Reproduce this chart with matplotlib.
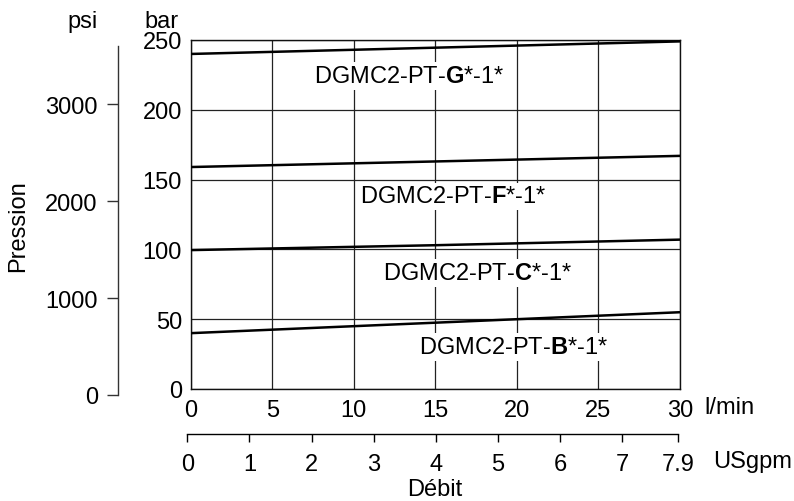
import matplotlib
matplotlib.use("Agg")
import matplotlib.pyplot as plt

plt.rcParams["font.family"] = ["Liberation Sans", "DejaVu Sans"]
plt.rcParams["mathtext.fontset"] = "custom"
plt.rcParams["mathtext.rm"] = "Liberation Sans"
plt.rcParams["mathtext.bf"] = "Liberation Sans:bold"
plt.rcParams["font.size"] = 17

# Flow (l/min) and pressure (bar) for each valve setting
flow_lpm = [0, 15, 30]
series = {
    "G": [240, 244.5, 249],
    "F": [159, 163, 167],
    "C": [99.5, 103, 107],
    "B": [40, 47.5, 55],
}
label_pos = {"G": (13.4, 224), "F": (16.1, 138), "C": (17.6, 83), "B": (19.8, 30)}

lpm_ticks = [0, 5, 10, 15, 20, 25, 30]
bar_ticks = [0, 50, 100, 150, 200, 250]
psi_ticks = [0, 1000, 2000, 3000]
gpm_ticks = [0, 1, 2, 3, 4, 5, 6, 7, 7.9]
gpm_labels = ["0", "1", "2", "3", "4", "5", "6", "7", "7.9"]

W, H = 794, 502
fig = plt.figure(figsize=(W / 100, H / 100), dpi=100)


def frac(x0, y0, x1, y1):
    return [x0 / W, 1 - y1 / H, (x1 - x0) / W, (y1 - y0) / H]


# Main chart (bar vs l/min)
ax = fig.add_axes(frac(190.7, 41, 680, 390))
ax.set_xlim(0, 30)
ax.set_ylim(0, 250)
ax.set_xticks(lpm_ticks)
ax.set_xticklabels([str(t) for t in lpm_ticks])
ax.set_yticks(bar_ticks)
ax.tick_params(length=0, pad=7, labelsize=17)
ax.tick_params(axis="y", pad=6.3)
ax.grid(True, color="#222222", lw=0.9)
for s in ax.spines.values():
    s.set_linewidth(1.0)
    s.set_color("#111111")

for key, vals in series.items():
    ax.plot(flow_lpm, vals, color="black", lw=1.8, solid_capstyle="butt", zorder=3)
    x, y = label_pos[key]
    ax.text(x, y, r"DGMC2-PT-$\mathbf{" + key + r"}$*-1*", ha="center", va="center",
            fontsize=17, zorder=4,
            bbox=dict(boxstyle="square,pad=0.12", fc="white", ec="none"))

ax.annotate("l/min", xy=(30, 0), xycoords=("data", "axes fraction"),
            xytext=(17.3, -13), textcoords="offset points", ha="left", va="center")

# psi scale
axp = fig.add_axes(frac(118, 47, 118.5, 396))
axp.set_ylim(0, 3600)
axp.set_yticks(psi_ticks)
axp.set_xticks([])
axp.patch.set_visible(False)
for k in ("top", "right", "bottom"):
    axp.spines[k].set_visible(False)
axp.spines["left"].set_color("#333333")
axp.spines["left"].set_linewidth(1.0)
axp.tick_params(axis="y", direction="out", length=8, width=1.0, color="#333333",
                pad=6.5, labelsize=17)

# USgpm scale
axg = fig.add_axes(frac(187.3, 434, 678.3, 435))
axg.set_xlim(0, 7.9)
axg.set_xticks(gpm_ticks)
axg.set_xticklabels(gpm_labels)
axg.set_yticks([])
axg.patch.set_visible(False)
for k in ("top", "right", "left"):
    axg.spines[k].set_visible(False)
axg.spines["bottom"].set_linewidth(1.0)
axg.tick_params(axis="x", direction="out", length=6, width=1.0, pad=8, labelsize=17)
axg.annotate("USgpm", xy=(7.9, 0), xycoords=("data", "axes fraction"),
             xytext=(25, -19.4), textcoords="offset points", ha="left", va="center")

fig.text(435 / W, 1 - 490 / H, "Débit", ha="center", va="center", fontsize=17)
fig.text(18.5 / W, 1 - 226 / H, "Pression", ha="center", va="center", rotation=90, fontsize=17)
fig.text(83 / W, 1 - 28 / H, "psi", ha="center", va="baseline", fontsize=17)
fig.text(161 / W, 1 - 28 / H, "bar", ha="center", va="baseline", fontsize=17)

fig.savefig("out.png", dpi=100)
